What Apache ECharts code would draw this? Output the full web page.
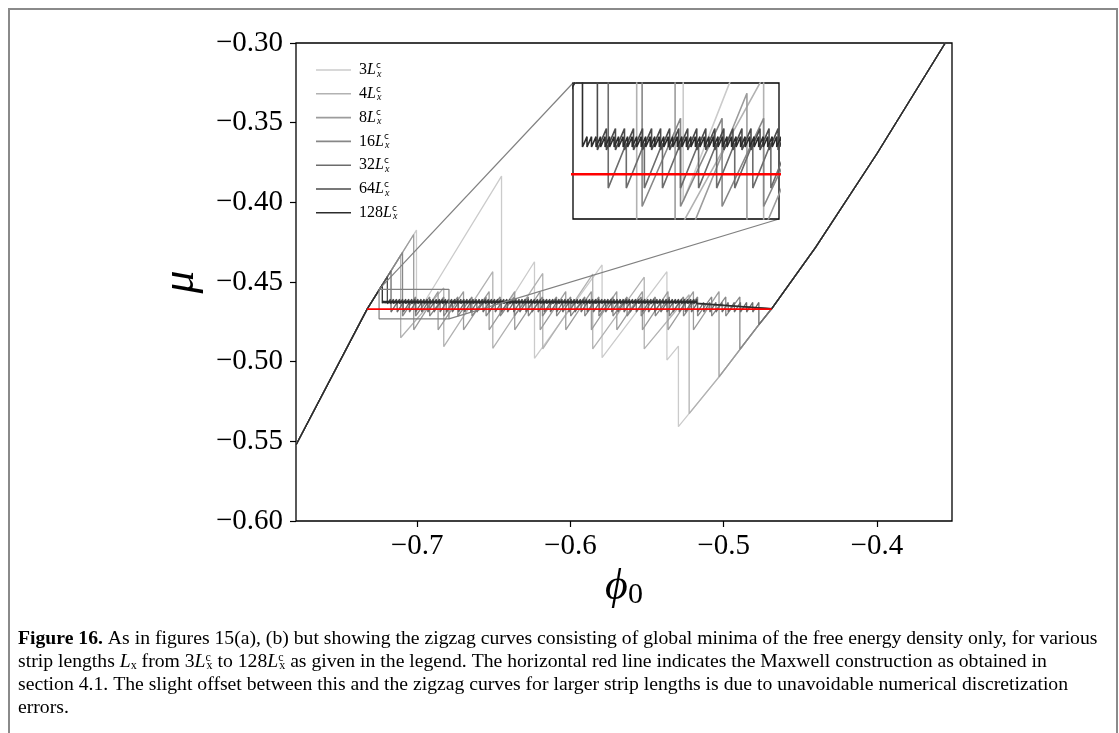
<!DOCTYPE html>
<html><head><meta charset="utf-8">
<script src="https://cdn.jsdelivr.net/npm/echarts@6/dist/echarts.min.js"></script>
<style>html,body{margin:0;padding:0;background:#fff}#c{width:1119px;height:733px}</style>
</head><body><div id="c"></div>
<script>
// ---------------- data (phi0, mu) ----------------
const xTicks = [-0.7, -0.6, -0.5, -0.4];
const seriesNames = ['3', '4', '8', '16', '32', '64', '128'];
const seriesColors = ['#cbcbcb', '#b2b2b2', '#9c9c9c', '#878787', '#6c6c6c', '#4b4b4b', '#2c2c2c'];
const maxwellMu = -0.467;
const maxwellRange = [-0.7326, -0.4687];
const insetX = [-0.7248, -0.6792];
const insetY = [-0.4731, -0.4546];

const leftBranch = [[-0.779, -0.5523], [-0.7326, -0.467], [-0.7004, -0.4174]];
const rightBranch = [[-0.5295, -0.5408], [-0.5030, -0.5095], [-0.4776, -0.4775], [-0.4687, -0.4668],
  [-0.440, -0.4283], [-0.400, -0.3695], [-0.3554, -0.300]];

// teeth: [phi of vertical drop, mu before drop, mu after drop]
const teeth3 = [[-0.7004, -0.4174, -0.4707], [-0.6449, -0.3835, -0.470], [-0.6234, -0.4373, -0.4979],
  [-0.5793, -0.4393, -0.4975], [-0.537, -0.4435, -0.499], [-0.5295, -0.4902, -0.5408]];
const teeth4 = [[-0.7107, -0.4333, -0.485], [-0.6826, -0.4537, -0.4906], [-0.6506, -0.4435, -0.4916],
  [-0.618, -0.4446, -0.492], [-0.5854, -0.445, -0.492], [-0.5518, -0.447, -0.492], [-0.5225, -0.458, -0.5326]];
const teeth8 = [[-0.7022, -0.4202, -0.480], [-0.6863, -0.456, -0.480], [-0.6697, -0.456, -0.480],
  [-0.6530, -0.456, -0.480], [-0.6363, -0.456, -0.480], [-0.6197, -0.456, -0.480], [-0.6030, -0.456, -0.480],
  [-0.5863, -0.456, -0.480], [-0.5697, -0.456, -0.480], [-0.5530, -0.456, -0.480], [-0.5363, -0.456, -0.480],
  [-0.5197, -0.456, -0.480], [-0.5030, -0.456, -0.5095]];
const drops16 = [-0.7095, -0.7010, -0.6918, -0.6826, -0.6734, -0.6642, -0.6550, -0.6458, -0.6366, -0.6274,
  -0.6182, -0.6090, -0.5998, -0.5906, -0.5814, -0.5722, -0.5630, -0.5538, -0.5446, -0.5354, -0.5262, -0.5170,
  -0.5078, -0.4986, -0.4894];
const levels16 = [-0.4314, -0.4594, -0.4714, -0.4922]; // first top, top, bottom, final bottom
const drops32 = [-0.7170, -0.7130, -0.7090, -0.7050, -0.7010, -0.6970, -0.6930, -0.6890, -0.6850, -0.6810,
  -0.6770, -0.6730, -0.6690, -0.6650, -0.6610, -0.6570, -0.6530, -0.6490, -0.6450, -0.6410,
  -0.6370, -0.6330, -0.6290, -0.6250, -0.6210, -0.6170, -0.6130, -0.6090, -0.6050, -0.6010,
  -0.5970, -0.5930, -0.5890, -0.5850, -0.5810, -0.5770, -0.5730, -0.5690, -0.5650, -0.5610,
  -0.5570, -0.5530, -0.5490, -0.5450, -0.5410, -0.5370, -0.5330, -0.5290, -0.5250, -0.5210,
  -0.5170, -0.5130, -0.5090, -0.5050, -0.5010, -0.4970, -0.4930, -0.4890, -0.4850, -0.4810, -0.4770];
const levels32 = [-0.4430, -0.4628, -0.4689, -0.4768];
const drops64 = [-0.7194, -0.7174, -0.7154, -0.7134, -0.7114, -0.7094, -0.7074, -0.7054, -0.7034, -0.7014,
  -0.6994, -0.6974, -0.6954, -0.6934, -0.6914, -0.6894, -0.6874, -0.6854, -0.6834, -0.6814,
  -0.6794, -0.6774, -0.6754, -0.6734, -0.6714, -0.6694, -0.6674, -0.6654, -0.6634, -0.6614,
  -0.6594, -0.6574, -0.6554, -0.6534, -0.6514, -0.6494, -0.6474, -0.6454, -0.6434, -0.6414,
  -0.6394, -0.6374, -0.6354, -0.6334, -0.6314, -0.6294, -0.6274, -0.6254, -0.6234, -0.6214,
  -0.6194, -0.6174, -0.6154, -0.6134, -0.6114, -0.6094, -0.6074, -0.6054, -0.6034, -0.6014,
  -0.5994, -0.5974, -0.5954, -0.5934, -0.5914, -0.5894, -0.5874, -0.5854, -0.5834, -0.5814,
  -0.5794, -0.5774, -0.5754, -0.5734, -0.5714, -0.5694, -0.5674, -0.5654, -0.5634, -0.5614,
  -0.5594, -0.5574, -0.5554, -0.5534, -0.5514, -0.5494, -0.5474, -0.5454, -0.5434, -0.5414,
  -0.5394, -0.5374, -0.5354, -0.5334, -0.5314, -0.5294, -0.5274, -0.5254, -0.5234, -0.5214,
  -0.5194, -0.5174];
const levels64 = [-0.4467, -0.4608, -0.4637, null];
const drops128 = [-0.7227, -0.7217, -0.7207, -0.7197, -0.7187, -0.7177, -0.7167, -0.7157, -0.7147, -0.7137,
  -0.7127, -0.7117, -0.7107, -0.7097, -0.7087, -0.7077, -0.7067, -0.7057, -0.7047, -0.7037,
  -0.7027, -0.7017, -0.7007, -0.6997, -0.6987, -0.6977, -0.6967, -0.6957, -0.6947, -0.6937,
  -0.6927, -0.6917, -0.6907, -0.6897, -0.6887, -0.6877, -0.6867, -0.6857, -0.6847, -0.6837,
  -0.6827, -0.6817, -0.6807, -0.6797, -0.6787, -0.6777, -0.6767, -0.6757, -0.6747, -0.6737,
  -0.6727, -0.6717, -0.6707, -0.6697, -0.6687, -0.6677, -0.6667, -0.6657, -0.6647, -0.6637,
  -0.6627, -0.6617, -0.6607, -0.6597, -0.6587, -0.6577, -0.6567, -0.6557, -0.6547, -0.6537,
  -0.6527, -0.6517, -0.6507, -0.6497, -0.6487, -0.6477, -0.6467, -0.6457, -0.6447, -0.6437,
  -0.6427, -0.6417, -0.6407, -0.6397, -0.6387, -0.6377, -0.6367, -0.6357, -0.6347, -0.6337,
  -0.6327, -0.6317, -0.6307, -0.6297, -0.6287, -0.6277, -0.6267, -0.6257, -0.6247, -0.6237,
  -0.6227, -0.6217, -0.6207, -0.6197, -0.6187, -0.6177, -0.6167, -0.6157, -0.6147, -0.6137,
  -0.6127, -0.6117, -0.6107, -0.6097, -0.6087, -0.6077, -0.6067, -0.6057, -0.6047, -0.6037,
  -0.6027, -0.6017, -0.6007, -0.5997, -0.5987, -0.5977, -0.5967, -0.5957, -0.5947, -0.5937,
  -0.5927, -0.5917, -0.5907, -0.5897, -0.5887, -0.5877, -0.5867, -0.5857, -0.5847, -0.5837,
  -0.5827, -0.5817, -0.5807, -0.5797, -0.5787, -0.5777, -0.5767, -0.5757, -0.5747, -0.5737,
  -0.5727, -0.5717, -0.5707, -0.5697, -0.5687, -0.5677, -0.5667, -0.5657, -0.5647, -0.5637,
  -0.5627, -0.5617, -0.5607, -0.5597, -0.5587, -0.5577, -0.5567, -0.5557, -0.5547, -0.5537,
  -0.5527, -0.5517, -0.5507, -0.5497, -0.5487, -0.5477, -0.5467, -0.5457, -0.5447, -0.5437,
  -0.5427, -0.5417, -0.5407, -0.5397, -0.5387, -0.5377, -0.5367, -0.5357, -0.5347, -0.5337,
  -0.5327, -0.5317, -0.5307, -0.5297, -0.5287, -0.5277, -0.5267, -0.5257, -0.5247, -0.5237,
  -0.5227, -0.5217, -0.5207, -0.5197, -0.5187, -0.5177];
const levels128 = [-0.4518, -0.4619, -0.4633, null];
const rightJoin = { '64': -0.469, '128': -0.469 };

// ---------------- build polylines ----------------
function teethFrom(drops, lv) {
  return drops.map((d, i) => [d, i === 0 ? lv[0] : lv[1],
    (i === drops.length - 1 && lv[3] !== null) ? lv[3] : lv[2]]);
}
function build(teeth, rightFrom) {
  const pts = [];
  leftBranch.forEach(p => { if (p[0] < teeth[0][0]) pts.push(p); });
  teeth.forEach(t => { pts.push([t[0], t[1]]); pts.push([t[0], t[2]]); });
  const from = rightFrom !== undefined ? rightFrom : teeth[teeth.length - 1][0];
  rightBranch.forEach(p => { if (p[0] > from) pts.push(p); });
  return pts;
}
const curves = [
  build(teeth3), build(teeth4), build(teeth8),
  build(teethFrom(drops16, levels16)), build(teethFrom(drops32, levels32)),
  build(teethFrom(drops64, levels64), rightJoin['64']),
  build(teethFrom(drops128, levels128), rightJoin['128'])
];
const labelOf = n => '{n|' + n + '}{L|L}{c|c}{x|x}';

const series = [];
seriesNames.forEach((n, i) => {
  [0, 1].forEach(g => series.push({
    name: n, type: 'line', xAxisIndex: g, yAxisIndex: g, data: curves[i],
    showSymbol: false, symbol: 'none', clip: true, animation: false,
    z: g ? 6 : 2,
    lineStyle: { color: seriesColors[i], width: g ? 1.6 : 1.3 },
    itemStyle: { color: seriesColors[i] }
  }));
});
[0, 1].forEach(g => series.push({
  name: 'Maxwell', type: 'line', xAxisIndex: g, yAxisIndex: g,
  data: [[maxwellRange[0], maxwellMu], [maxwellRange[1], maxwellMu]],
  showSymbol: false, symbol: 'none', animation: false, z: g ? 8 : 4,
  lineStyle: { color: '#ff0000', width: g ? 2.5 : 1.8 }
}));
series.push({
  name: 'zoomBox', type: 'line', xAxisIndex: 0, yAxisIndex: 0,
  data: [[insetX[0], insetY[1]], [insetX[1], insetY[1]], [insetX[1], insetY[0]], [insetX[0], insetY[0]], [insetX[0], insetY[1]]],
  showSymbol: false, symbol: 'none', animation: false, z: 3,
  lineStyle: { color: '#808080', width: 1.2 }
});

const serif = 'Liberation Serif';
const chart = echarts.init(document.getElementById('c'), null, { renderer: 'canvas' });
const minus = v => (v < 0 ? '\u2212' : '') + Math.abs(v);
chart.setOption({
  backgroundColor: '#fff',
  animation: false,
  grid: [
    { left: 296, top: 43, width: 656, height: 478, show: true, borderColor: '#000', borderWidth: 1.3, backgroundColor: 'transparent', z: 1 },
    { left: 573, top: 83, width: 206, height: 136, show: true, borderColor: '#000', borderWidth: 1.3, backgroundColor: '#fff', z: 5 }
  ],
  xAxis: [
    { type: 'value', gridIndex: 0, min: -0.779, max: -0.351,
      axisLine: { show: false }, splitLine: { show: false },
      axisTick: { show: true, length: 6, customValues: xTicks, lineStyle: { color: '#000', width: 1.2 } },
      axisLabel: { customValues: xTicks, formatter: v => minus(v).replace(/(\.\d)\d*$/, '$1'), color: '#000', fontFamily: serif, fontSize: 29, margin: 11 },
      name: '{a|\u03D5}{b|0}', nameLocation: 'middle', nameGap: 40,
      nameTextStyle: { rich: { a: { fontFamily: serif, fontStyle: 'italic', fontSize: 44, color: '#000', lineHeight: 44 }, b: { fontFamily: serif, fontSize: 30, color: '#000', verticalAlign: 'bottom', lineHeight: 34 } } }
    },
    { type: 'value', gridIndex: 1, min: insetX[0], max: insetX[1], show: false, splitLine: { show: false } }
  ],
  yAxis: [
    { type: 'value', gridIndex: 0, min: -0.6, max: -0.3, interval: 0.05,
      axisLine: { show: false }, splitLine: { show: false },
      axisTick: { show: true, length: 6, lineStyle: { color: '#000', width: 1.2 } },
      axisLabel: { formatter: v => '\u2212' + Math.abs(v).toFixed(2), color: '#000', fontFamily: serif, fontSize: 29, margin: 13 },
      name: '\u03BC', nameLocation: 'middle', nameRotate: 90, nameGap: 92,
      nameTextStyle: { fontFamily: serif, fontStyle: 'italic', fontSize: 46, color: '#000' }
    },
    { type: 'value', gridIndex: 1, min: insetY[0], max: insetY[1], show: false, splitLine: { show: false } }
  ],
  legend: {
    data: seriesNames, orient: 'vertical', left: 311, top: 56, itemWidth: 35, itemHeight: 1.6, itemGap: 5.8,
    icon: 'rect', formatter: labelOf,
    textStyle: { rich: {
      n: { fontFamily: serif, fontSize: 16, color: '#000', lineHeight: 18, padding: [0, 0, 0, 3] },
      L: { fontFamily: serif, fontStyle: 'italic', fontSize: 16, color: '#000', lineHeight: 18 },
      c: { fontFamily: 'DejaVu Sans', fontSize: 9, color: '#000', verticalAlign: 'top', lineHeight: 9, width: 1 },
      x: { fontFamily: serif, fontStyle: 'italic', fontSize: 10, color: '#000', verticalAlign: 'bottom', lineHeight: 10 }
    } }
  },
  series: series
});

// connector lines between the zoom box and the inset (layout only)
const pTL = chart.convertToPixel({ xAxisIndex: 0, yAxisIndex: 0 }, [insetX[0], insetY[1]]);
const pBR = chart.convertToPixel({ xAxisIndex: 0, yAxisIndex: 0 }, [insetX[1], insetY[0]]);
const fs = 19.7;
const capRich = {
  b: { fontFamily: serif, fontWeight: 'bold', fontSize: fs, color: '#000' },
  t: { fontFamily: serif, fontSize: fs, color: '#000' },
  l: { fontFamily: serif, fontSize: fs, color: '#2a8fc7' },
  i: { fontFamily: serif, fontStyle: 'italic', fontSize: fs, color: '#000' },
  sp: { fontFamily: serif, fontSize: 12, color: '#000', verticalAlign: 'top', lineHeight: 12, width: 1 },
  sb: { fontFamily: serif, fontSize: 12, color: '#000', verticalAlign: 'bottom', lineHeight: 12 }
};
const capLines = [
  '{b|Figure 16.}{t| As in figures }{l|15}{t|(a), (b) but showing the zigzag curves consisting of global minima of the free energy density only, for various}',
  '{t|strip lengths }{i|L}{sb|x}{t| from 3}{i|L}{sp|c}{sb|x}{t| to 128}{i|L}{sp|c}{sb|x}{t| as given in the legend. The horizontal red line indicates the Maxwell construction as obtained in}',
  '{t|section }{l|4.1}{t|. The slight offset between this and the zigzag curves for larger strip lengths is due to unavoidable numerical discretization}',
  '{t|errors.}'
];
const graphics = [
  { type: 'rect', shape: { x: 9, y: 9, width: 1108, height: 760 }, style: { fill: 'none', stroke: '#8a8a8a', lineWidth: 2 }, z: 0 },
  { type: 'line', shape: { x1: pTL[0], y1: pTL[1], x2: 573, y2: 83 }, style: { stroke: '#808080', lineWidth: 1.2 }, z: 3 },
  { type: 'line', shape: { x1: pBR[0], y1: pBR[1], x2: 779, y2: 219 }, style: { stroke: '#808080', lineWidth: 1.2 }, z: 3 }
];
capLines.forEach((s, i) => graphics.push({
  type: 'text', left: 18, top: 629 + i * 22.8, z: 10,
  style: { text: s, rich: capRich, fill: '#000' }
}));
chart.setOption({ graphic: graphics });
</script></body></html>
